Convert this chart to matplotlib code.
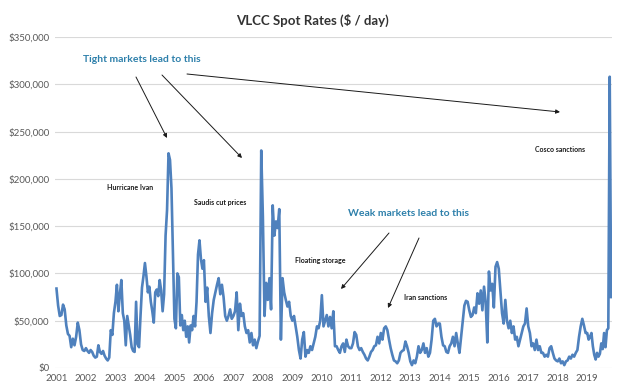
import numpy as np
import matplotlib
matplotlib.use("Agg")
import matplotlib.pyplot as plt
from matplotlib.ticker import FuncFormatter

# VLCC spot rates, $000/day (roughly 18 readings per year)
r2001 = [84, 66, 55, 56, 67, 62, 45, 36, 34, 22, 31, 24, 33, 48, 40, 25, 19, 18]
r2002 = [21, 18, 16, 19, 17, 13, 11, 12, 24, 17, 15, 18, 13, 10, 8, 11, 40, 35, 58]
r2003 = [70, 88, 60, 78, 93, 58, 50, 24, 55, 45, 35, 22, 18, 17, 70, 25, 22, 55, 85, 97]
r2004 = [111, 97, 80, 86, 70, 60, 48, 80, 83, 76, 93, 82, 60, 78, 140, 167, 227, 220, 190, 120]
r2005 = [52, 42, 100, 96, 45, 56, 40, 50, 33, 44, 27, 45, 40, 55, 44, 70, 120, 135, 115, 105]
r2006 = [114, 70, 85, 55, 37, 58, 72, 80, 88, 95, 78, 88, 75, 55, 50, 55, 62, 52]
r2007 = [55, 60, 80, 40, 68, 55, 58, 44, 37, 40, 27, 37, 24, 30, 21, 28, 34, 230]
r2008 = [160, 55, 90, 72, 95, 62, 172, 140, 155, 148, 168, 30, 95, 80, 72, 65, 70, 55]
r2009 = [50, 55, 44, 33, 19, 10, 30, 38, 12, 19, 16, 23, 19, 26, 33, 44, 42, 50]
r2010 = [77, 44, 50, 56, 44, 54, 42, 60, 23, 23, 19, 16, 23, 26, 17, 30, 23, 21]
r2011 = [21, 26, 38, 35, 23, 19, 21, 17, 14, 10, 8, 12, 17, 19, 23, 24, 33, 26]
r2012 = [37, 30, 42, 44, 40, 30, 21, 14, 8, 7, 5, 8, 16, 18, 19, 28, 23, 16]
r2013 = [7, 3, 8, 5, 12, 23, 16, 19, 26, 16, 21, 12, 16, 30, 50, 52, 44, 47]
r2014 = [47, 33, 24, 23, 17, 16, 23, 26, 33, 23, 37, 26, 16, 33, 50, 66, 71, 70]
r2015 = [61, 54, 56, 64, 58, 79, 68, 82, 61, 86, 70, 27, 102, 82, 89, 64, 107, 112]
r2016 = [105, 82, 58, 47, 72, 50, 42, 50, 37, 44, 30, 33, 23, 30, 37, 44, 47, 63]
r2017 = [44, 37, 23, 26, 19, 30, 19, 23, 16, 16, 12, 14, 12, 21, 23, 16, 10, 8]
r2018 = [7, 10, 5, 7, 3, 7, 8, 12, 10, 14, 12, 16, 19, 33, 44, 52, 45, 37]
r2019 = [37, 30, 33, 37, 23, 14, 9, 16, 12, 15, 26, 20, 37, 22, 40, 42, 308, 75]
last_reading = 2019.81  # data stops in late 2019

years = list(range(2001, 2020))
by_year = [r2001, r2002, r2003, r2004, r2005, r2006, r2007, r2008, r2009, r2010,
           r2011, r2012, r2013, r2014, r2015, r2016, r2017, r2018, r2019]

dates, rates = [], []
for yr, vals in zip(years, by_year):
    if yr == years[-1]:
        t = np.linspace(yr, last_reading, len(vals))
    else:
        t = np.linspace(yr, yr + 1, len(vals), endpoint=False)
    dates.extend(t)
    rates.extend(np.array(vals) * 1000)

fig = plt.figure(figsize=(6.4, 3.89), dpi=100)
ax = fig.add_axes([55 / 640, 1 - 368 / 389, (612 - 55) / 640, (368 - 37) / 389])

ax.plot(dates, rates, color="#4F81BD", lw=1.9, solid_joinstyle="round")

ax.set_ylim(0, 350000)
ax.set_xlim(2000.95, 2019.84)
ax.set_yticks(np.arange(0, 350001, 50000))
ax.set_xticks(years)
ax.yaxis.set_major_formatter(FuncFormatter(lambda v, p: f"${v:,.0f}"))
ax.grid(axis="y", color="#D9D9D9", lw=0.8)
ax.set_axisbelow(True)
for s in ax.spines.values():
    s.set_visible(False)
ax.tick_params(length=0, labelsize=7, labelcolor="#595959", pad=4)
for lab in ax.get_xticklabels() + ax.get_yticklabels():
    lab.set_family("Lato")

def px(x, y):
    return (x / 640, 1 - y / 389)

fig.text(*px(312, 20), "VLCC Spot Rates ($ / day)", ha="center", va="center",
         fontsize=9.5, fontweight="bold", color="#333333", family="Lato")

blue = "#2E80AB"
fig.text(*px(83, 59), "Tight markets lead to this", ha="left", va="center",
         fontsize=7.5, fontweight="bold", color=blue, family="Lato")
fig.text(*px(348, 213), "Weak markets lead to this", ha="left", va="center",
         fontsize=7.5, fontweight="bold", color=blue, family="Lato")

notes = [("Hurricane Ivan", 107, 188), ("Saudis cut prices", 194, 202),
         ("Floating storage", 295, 260), ("Iran sanctions", 404, 298),
         ("Cosco sanctions", 535, 149)]
for txt, x, y in notes:
    fig.text(*px(x, y), txt, ha="left", va="center", fontsize=5,
             fontweight="bold", color="#1A1A1A", family="Lato")

arrows = [((136, 77), (167, 138)), ((162, 75), (242, 158)), ((187, 74), (560, 112)),
          ((389, 233), (341, 289)), ((419, 238), (388, 308))]
for (x0, y0), (x1, y1) in arrows:
    ax.annotate("", xy=px(x1, y1), xytext=px(x0, y0),
                xycoords="figure fraction", textcoords="figure fraction",
                arrowprops=dict(arrowstyle="-|>", color="#1A1A1A", lw=0.7,
                                mutation_scale=6, shrinkA=0, shrinkB=0))

fig.savefig("out.png", dpi=100)
